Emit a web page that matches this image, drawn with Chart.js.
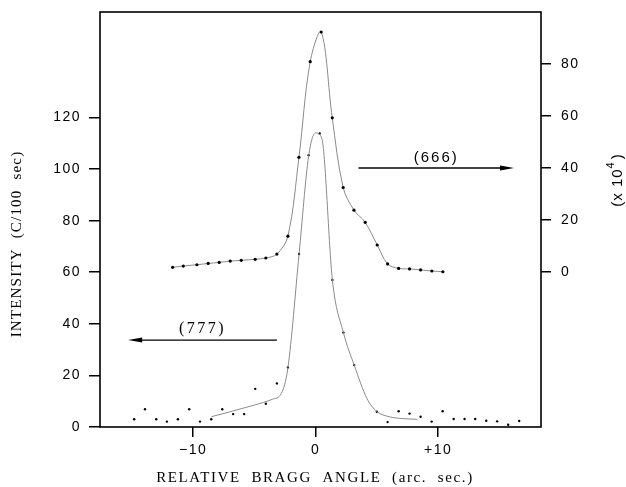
<!DOCTYPE html>
<html>
<head>
<meta charset="utf-8">
<script src="https://cdn.jsdelivr.net/npm/chart.js@4/dist/chart.umd.min.js"></script>
<style>
  html, body { margin: 0; background: #fff; }
  #wrap { width: 626px; height: 487px; }
</style>
</head>
<body>
<div id="wrap"><canvas id="chart"></canvas></div>
<script>
// (666) reflection, measured points (right axis, x 10^4)
const x666 = [-11.67, -10.8, -9.69, -8.77, -7.87, -6.97, -6.07, -4.93, -4.06, -3.16, -2.26, -1.36, -0.44, 0.46, 1.36, 2.25, 3.13, 4.05, 5.03, 5.88, 6.78, 7.67, 8.57, 9.49, 10.39];
const y666 = [1.8, 2.3, 2.8, 3.3, 3.7, 4.2, 4.5, 4.9, 5.4, 6.9, 13.8, 44.1, 80.9, 92.3, 59.3, 32.5, 23.8, 19.1, 10.4, 3.1, 1.4, 1.2, 0.8, 0.4, 0.1];

// (777) reflection, measured points (left axis, C/100 sec)
const x777 = [-14.81, -13.93, -13.01, -12.14, -11.24, -10.32, -9.44, -8.52, -7.62, -6.73, -5.83, -4.93, -4.06, -3.16, -2.26, -1.35, -0.57, 0.33, 1.37, 2.27, 3.15, 5.0, 5.88, 6.78, 7.67, 8.57, 9.47, 10.37, 11.27, 12.16, 13.03, 13.93, 14.82, 15.72, 16.62];
const y777 = [3.0, 6.9, 3.0, 2.1, 3.0, 6.9, 2.1, 3.0, 6.9, 5.0, 5.0, 14.8, 9.0, 16.9, 23.1, 67.1, 105.4, 113.8, 57.0, 36.6, 24.0, 5.9, 1.9, 6.1, 5.2, 4.0, 2.1, 6.1, 3.1, 3.1, 3.1, 2.4, 2.2, 0.9, 2.3];

// smooth curve drawn through the (777) data
const fitX777 = [-8.5, -5, -3.5, -2.8, -2.26, -1.35, -0.57, 0, 0.5, 1.37, 2.27, 3.15, 4.2, 5, 6, 7, 8.3];
const fitY777 = [4, 8.5, 10.8, 13, 23, 67, 105, 114, 112, 57, 36.6, 24, 11, 6, 4, 3.3, 3];

const xTickValues = [-10, 0, 10];
const xTickLabels = ['\u221210', '0', '+10'];
const leftTicks = [0, 20, 40, 60, 80, 100, 120];
const rightTicks = [0, 20, 40, 60, 80];

// arrows marking which axis each curve belongs to
const arrows = [
  { label: '(666)', font: '15px "Liberation Sans"', spacing: '2px', axis: 'y2', y: 40, from: 3.5, to: 16.2 },
  { label: '(777)', font: '16px "Liberation Serif"', spacing: '2.5px', axis: 'y', y: 33.7, from: -3.16, to: -15.3 }
];

function pts(xs, ys) {
  return xs.map((x, i) => ({ x: x, y: ys[i] }));
}

const frame = {
  id: 'frame',
  beforeDraw(chart) {
    // wide tick digits like the original typesetting
    chart.ctx.letterSpacing = '1.5px';
  },
  afterDatasetsDraw(chart) {
    const ctx = chart.ctx;
    const a = chart.chartArea;
    const sx = chart.scales.x;
    ctx.save();
    ctx.strokeStyle = '#000';
    ctx.lineWidth = 1.6;
    ctx.strokeRect(a.left, a.top, a.right - a.left, a.bottom - a.top);

    // arrows
    ctx.fillStyle = '#000';
    arrows.forEach(ar => {
      const sy = chart.scales[ar.axis];
      const py = sy.getPixelForValue(ar.y);
      const p0 = sx.getPixelForValue(ar.from);
      const p1 = sx.getPixelForValue(ar.to);
      const dir = Math.sign(p1 - p0);
      ctx.lineWidth = 1.3;
      ctx.beginPath();
      ctx.moveTo(p0, py);
      ctx.lineTo(p1 - dir * 8, py);
      ctx.stroke();
      ctx.beginPath();
      ctx.moveTo(p1, py);
      ctx.lineTo(p1 - dir * 14, py - 2.5);
      ctx.lineTo(p1 - dir * 14, py + 2.5);
      ctx.closePath();
      ctx.fill();
      ctx.font = ar.font;
      ctx.textAlign = 'center';
      ctx.textBaseline = 'bottom';
      ctx.letterSpacing = ar.spacing;
      ctx.fillText(ar.label, (p0 + p1) / 2, py - 3);
    });

    // axis titles
    ctx.letterSpacing = '1.2px';
    ctx.font = '15px "Liberation Serif"';
    ctx.textAlign = 'center';
    ctx.textBaseline = 'middle';
    ctx.save();
    ctx.translate(17, 244);
    ctx.rotate(-Math.PI / 2);
    ctx.fillText('INTENSITY  (C/100  sec)', 0, 0);
    ctx.restore();

    ctx.letterSpacing = '1.6px';
    ctx.fillText('RELATIVE  BRAGG  ANGLE  (arc.  sec.)', 315, 478);

    ctx.save();
    ctx.translate(618, 180);
    ctx.rotate(-Math.PI / 2);
    ctx.letterSpacing = '1px';
    ctx.font = '15px "Liberation Sans"';
    ctx.textAlign = 'left';
    const main = '(x 10';
    const w1 = ctx.measureText(main).width;
    ctx.font = '11px "Liberation Sans"';
    const w2 = ctx.measureText('4').width;
    ctx.font = '15px "Liberation Sans"';
    const w3 = ctx.measureText(')').width;
    let cx = -(w1 + w2 + w3 + 2) / 2;
    ctx.fillText(main, cx, 0);
    cx += w1;
    ctx.font = '11px "Liberation Sans"';
    ctx.fillText('4', cx, -7);
    cx += w2 + 2;
    ctx.font = '15px "Liberation Sans"';
    ctx.fillText(')', cx, 0);
    ctx.restore();
    ctx.restore();
  }
};

const tickFont = { family: 'Liberation Sans', size: 14 };

function fixY(width) {
  return s => { s.width = width; s.paddingTop = 0; s.paddingBottom = 0; };
}

new Chart(document.getElementById('chart'), {
  type: 'scatter',
  data: {
    datasets: [
      {
        label: '(777) fit',
        data: pts(fitX777, fitY777),
        yAxisID: 'y',
        showLine: true,
        cubicInterpolationMode: 'monotone',
        borderColor: '#8a8a8a',
        borderWidth: 1,
        pointRadius: 0
      },
      {
        label: '(777)',
        data: pts(x777, y777),
        yAxisID: 'y',
        showLine: false,
        pointRadius: 1.2,
        pointBackgroundColor: '#000',
        pointBorderColor: '#000',
        pointBorderWidth: 0
      },
      {
        label: '(666)',
        data: pts(x666, y666),
        yAxisID: 'y2',
        showLine: true,
        tension: 0.35,
        borderColor: '#8a8a8a',
        borderWidth: 1,
        pointRadius: 1.6,
        pointBackgroundColor: '#000',
        pointBorderColor: '#000',
        pointBorderWidth: 0
      }
    ]
  },
  options: {
    responsive: true,
    maintainAspectRatio: false,
    animation: false,
    layout: { padding: { top: 12 } },
    plugins: { legend: { display: false }, tooltip: { enabled: false } },
    scales: {
      x: {
        type: 'linear',
        min: -17.6,
        max: 18.4,
        afterBuildTicks: s => { s.ticks = xTickValues.map(v => ({ value: v })); },
        afterFit: s => { s.height = 60; s.paddingLeft = 0; s.paddingRight = 0; },
        ticks: {
          color: '#000',
          font: tickFont,
          padding: 5,
          callback: v => xTickLabels[xTickValues.indexOf(v)]
        },
        grid: { drawOnChartArea: false, tickLength: 10, color: '#000', lineWidth: 1.5 },
        border: { display: false }
      },
      y: {
        position: 'left',
        min: 0,
        max: 160.9,
        afterBuildTicks: s => { s.ticks = leftTicks.map(v => ({ value: v })); },
        afterFit: fixY(100),
        ticks: { color: '#000', font: tickFont, padding: 8 },
        grid: { drawOnChartArea: false, tickLength: 11, color: '#000', lineWidth: 1.5 },
        border: { display: false }
      },
      y2: {
        position: 'right',
        min: -59.6,
        max: 100,
        afterBuildTicks: s => { s.ticks = rightTicks.map(v => ({ value: v })); },
        afterFit: fixY(85),
        ticks: { color: '#000', font: tickFont, padding: 10 },
        grid: { drawOnChartArea: false, tickLength: 10, color: '#000', lineWidth: 1.5 },
        border: { display: false }
      }
    }
  },
  plugins: [frame]
});
</script>
</body>
</html>
